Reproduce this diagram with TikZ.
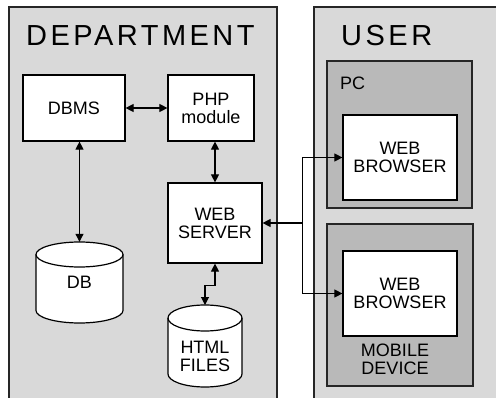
\documentclass[tikz,border=0pt]{standalone}
\usepackage{fontspec}
\setmainfont{Liberation Sans}
\usetikzlibrary{arrows.meta}

\newcommand\boxfont{\fontsize{18}{18}\selectfont}
\newcommand\titlefont{\fontsize{29}{30}\selectfont\addfontfeatures{LetterSpace=12}}

% drum: centre, half width, half height, radius of the ellipse
\newcommand\drum[4]{%
  \draw[line width=1.2pt,fill=white] (#1) ++(-#2,#3-#4) -- ++(0,-2*#3+2*#4)
    arc[start angle=180,end angle=360,x radius=#2,y radius=#4]
    -- ++(0,2*#3-2*#4)
    arc[start angle=0,end angle=180,x radius=#2,y radius=#4] -- cycle;
  \draw[line width=1.2pt] (#1) ++(-#2,#3-#4)
    arc[start angle=180,end angle=360,x radius=#2,y radius=#4];
}

\tikzset{
  panel/.style={draw=black!85,line width=1.2pt,fill=gray!30},
  device/.style={draw=black!85,line width=1.2pt,fill=gray!55},
  unit/.style={draw,line width=1.2pt,fill=white,align=center,font=\boxfont},
  store/.style={align=center,font=\boxfont},
  link/.style={line width=1.1pt,{Triangle[length=8pt,width=8pt]}-{Triangle[length=8pt,width=8pt]}},
  push/.style={line width=1.1pt,-{Triangle[length=8pt,width=8pt]}},
}

\begin{document}
\begin{tikzpicture}[x=1pt,y=1pt]
  \clip (0,0) rectangle (496,397);
  \fill[white] (0,0) rectangle (496,397);
  % Panels
  \draw[panel] (9,390) rectangle (277,-10);
  \draw[panel] (314,390) rectangle (510,-10);
  \node[anchor=base west,font=\titlefont,inner sep=0pt] (dept) at (26,351) {DEPARTMENT};
  \node[anchor=base west,font=\titlefont,inner sep=0pt] (user) at (341,351) {USER};
  % Department side
  \node[unit,minimum width=102,minimum height=66] (dbms) at (74,289) {DBMS};
  \node[unit,minimum width=86,minimum height=66] (php) at (211,289) {PHP\\module};
  \node[unit,minimum width=94,minimum height=80] (web) at (215,174) {WEB\\SERVER};
  \coordinate (dbc) at (79.5,114.5);
  \drum{dbc}{43.5}{40.5}{12.5}
  \node[store,minimum width=87,minimum height=81] (db) at (dbc) {DB};
  \coordinate (htmlc) at (205,51);
  \drum{htmlc}{37}{41}{13}
  \node[store,minimum width=74,minimum height=82] (html) at ([yshift=-10]htmlc) {HTML\\FILES};
  \coordinate (htmltop) at (205,92);
  % User side
  \draw[device] (327,336) rectangle (472,189);
  \node[anchor=base west,font=\boxfont,inner sep=0pt] (pc) at (340,307) {PC};
  \node[unit,minimum width=114,minimum height=85] (pcb) at (400,239.5) {WEB\\BROWSER};
  \draw[device] (327,173) rectangle (473,11);
  \node[unit,minimum width=114,minimum height=85] (mob) at (400,103.5) {WEB\\BROWSER};
  \node[store] (mobile) at (395,38) {MOBILE\\DEVICE};
  % Connections
  \draw[link] (dbms.east) -- (php.west);
  \draw[link] (web.north |- php.south) -- (web.north);
  \draw[link] (db.north |- dbms.south) -- (db.north);
  \draw[link] (web.south) -- ++(0,-22) -| (htmltop);
  \coordinate (hub) at ([xshift=40]web.east);
  \draw[push] (hub) -- (web.east);
  \draw[push] (hub) |- (pcb.west);
  \draw[push] (hub) |- (mob.west);
\end{tikzpicture}
\end{document}
